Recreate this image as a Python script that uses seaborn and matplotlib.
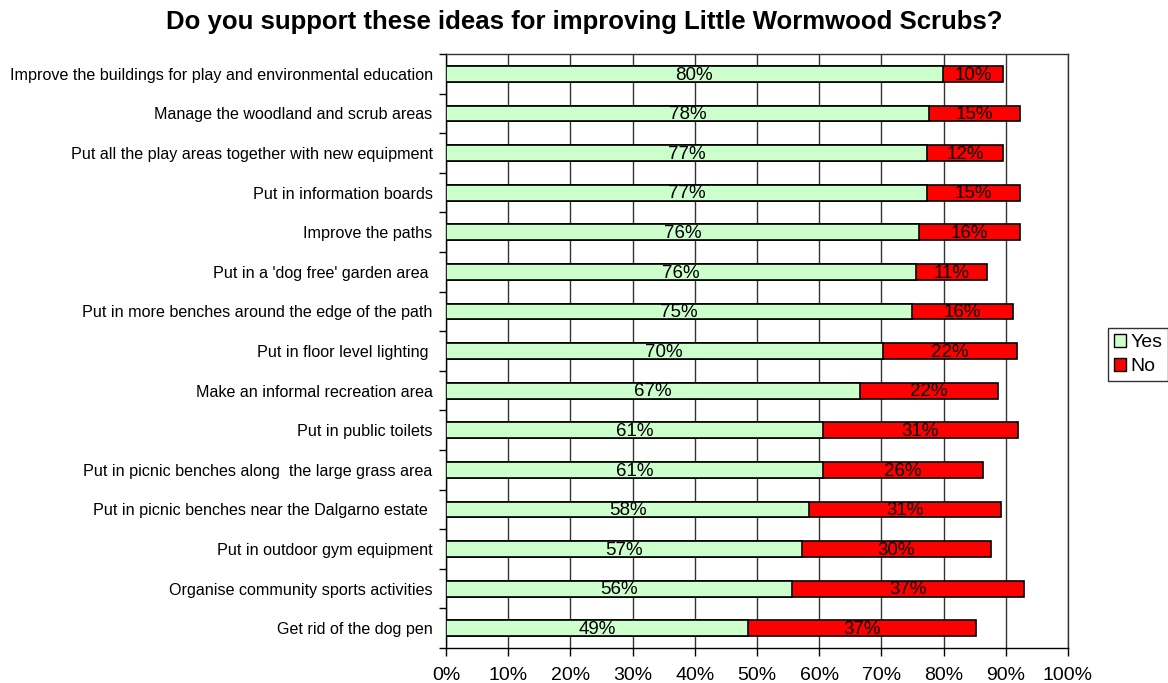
import pandas as pd
import matplotlib
matplotlib.use("Agg")
import matplotlib.pyplot as plt
import seaborn as sns
from matplotlib.patches import Patch

# survey answers (percent of respondents)
ideas = [
    "Improve the buildings for play and environmental education",
    "Manage the woodland and scrub areas",
    "Put all the play areas together with new equipment",
    "Put in information boards",
    "Improve the paths",
    "Put in a 'dog free' garden area ",
    "Put in more benches around the edge of the path",
    "Put in floor level lighting ",
    "Make an informal recreation area",
    "Put in public toilets",
    "Put in picnic benches along  the large grass area",
    "Put in picnic benches near the Dalgarno estate ",
    "Put in outdoor gym equipment",
    "Organise community sports activities",
    "Get rid of the dog pen",
]
yes = [79.9, 77.7, 77.3, 77.3, 76.1, 75.6, 75.0, 70.2, 66.6, 60.6, 60.6, 58.4, 57.2, 55.6, 48.6]
no = [9.7, 14.6, 12.3, 15.0, 16.2, 11.4, 16.2, 21.6, 22.2, 31.3, 25.8, 30.8, 30.4, 37.4, 36.7]

yes_color = "#CCFFCC"
no_color = "#FF0000"

df = pd.DataFrame({"Idea": ideas, "Yes": yes, "No": no})
df["Total"] = df["Yes"] + df["No"]

sns.set_style("white")
plt.rcParams["font.family"] = ["Liberation Sans", "DejaVu Sans"]
plt.rcParams["text.color"] = "black"
plt.rcParams["xtick.color"] = "black"
plt.rcParams["ytick.color"] = "black"

fig = plt.figure(figsize=(11.68, 6.83), dpi=100)
ax = fig.add_axes([0.3818, 0.0512, 0.5325, 0.8697])

# stacked bars: total in red underneath, yes in green on top
sns.barplot(data=df, x="Total", y="Idea", color=no_color, width=0.4,
            edgecolor="black", linewidth=1.2, saturation=1, ax=ax, zorder=3)
sns.barplot(data=df, x="Yes", y="Idea", color=yes_color, width=0.4,
            edgecolor="black", linewidth=1.2, saturation=1, ax=ax, zorder=4)

for i, (y_val, n_val) in enumerate(zip(yes, no)):
    ax.text(y_val / 2, i + 0.03, f"{round(y_val)}%", ha="center", va="center",
            fontsize=13.5, zorder=5)
    ax.text(y_val + n_val / 2, i + 0.03, f"{round(n_val)}%", ha="center", va="center",
            fontsize=13.5, zorder=5)

ax.set_xlim(0, 100)
ax.set_ylim(len(ideas) - 0.5, -0.5)
ax.set_xticks(range(0, 101, 10))
ax.set_xticklabels([f"{v}%" for v in range(0, 101, 10)], fontsize=14)
ax.set_xlabel("")
ax.set_ylabel("")

# tick marks between categories, labels at the centres
ax.set_yticks([i + 0.5 for i in range(-1, len(ideas))])
ax.set_yticklabels([])
ax.set_yticks(range(len(ideas)), minor=True)
ax.set_yticklabels(ideas, minor=True, fontsize=11.6)
ax.tick_params(axis="y", which="minor", length=0, pad=9.5)
ax.tick_params(axis="y", which="major", length=5, width=1, direction="out", left=True)
ax.tick_params(axis="x", length=6, width=1, direction="out", bottom=True, pad=8)

ax.grid(axis="x", color="#333333", linewidth=1, zorder=0)
ax.grid(axis="y", visible=False)
for side in ["top", "right", "left", "bottom"]:
    ax.spines[side].set_visible(True)
    ax.spines[side].set_color("black")
    ax.spines[side].set_linewidth(1)
ax.spines["top"].set_color("#333333")
ax.spines["right"].set_color("#333333")

fig.suptitle("Do you support these ideas for improving Little Wormwood Scrubs?",
             x=0.5, y=0.985, fontsize=18.5, fontweight="bold")

handles = [Patch(facecolor=yes_color, edgecolor="black", label="Yes"),
           Patch(facecolor=no_color, edgecolor="black", label="No")]
fig.legend(handles=handles, loc="upper left", bbox_to_anchor=(0.9486, 0.52),
           frameon=True, fancybox=False, edgecolor="black", fontsize=14,
           handlelength=0.65, handleheight=0.65, handletextpad=0.2,
           borderpad=0.3, labelspacing=0.35, borderaxespad=0)

fig.savefig("out.png", dpi=100)
